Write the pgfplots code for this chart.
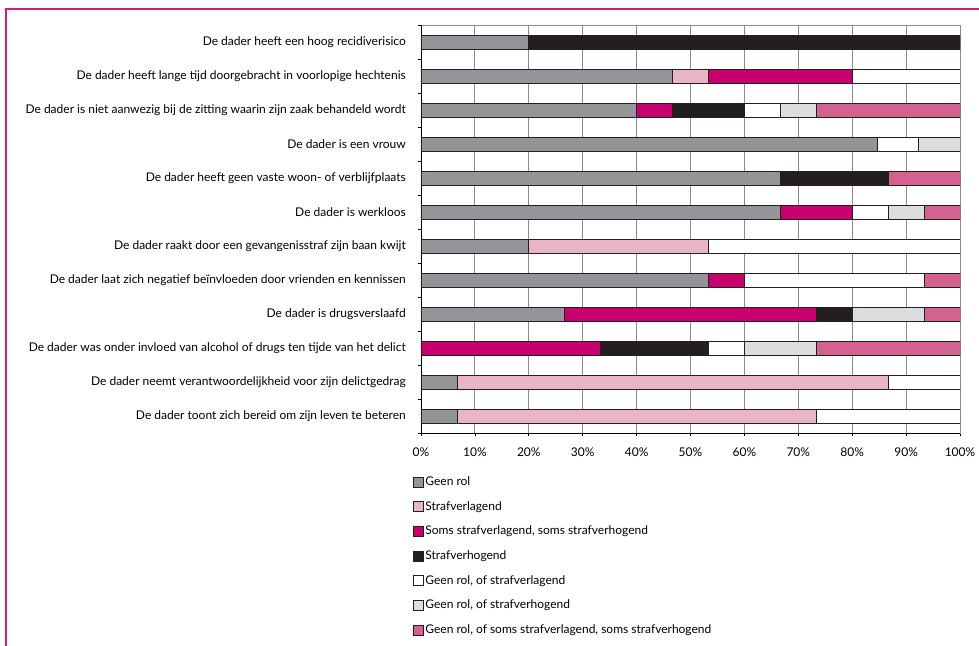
\documentclass[border=0pt]{standalone}
\usepackage{pgfplots}
\usepackage{pgfplotstable}
\pgfplotsset{compat=1.18}
\usepackage{fontspec}
\setmainfont{Lato}
\definecolor{cGR}{HTML}{939598}
\definecolor{cSV}{HTML}{EBB5C9}
\definecolor{cSO}{HTML}{C7006E}
\definecolor{cSH}{HTML}{231F20}
\definecolor{cGV}{HTML}{FFFFFF}
\definecolor{cGH}{HTML}{DCDDDE}
\definecolor{cGS}{HTML}{D4628F}
\definecolor{cOut}{HTML}{231F20}
\definecolor{cGrid}{HTML}{8C8C8C}
\definecolor{cFrame}{HTML}{CC2276}
\pgfplotstableread{
y GR SV SO SH GV GH GS
12 20 0 0 80 0 0 0
11 46.67 6.67 26.67 0 20 0 0
10 40 0 6.67 13.33 6.67 6.67 26.67
9 84.62 0 0 0 7.69 7.69 0
8 66.67 0 0 20 0 0 13.33
7 66.67 0 13.33 0 6.67 6.67 6.67
6 20 33.33 0 0 46.67 0 0
5 53.33 0 6.67 0 33.33 0 6.67
4 26.67 0 46.67 6.67 0 13.33 6.67
3 0 0 33.33 20 6.67 13.33 26.67
2 6.67 80 0 0 13.33 0 0
1 6.67 66.67 0 0 26.67 0 0
}\data
\pgfplotsset{sq/.style={legend image code/.code={\draw[##1,draw=cOut,line width=0.7bp] (0bp,-5bp) rectangle (10bp,5bp);}}}
\begin{document}
\fontsize{12bp}{14bp}\selectfont
\begin{tikzpicture}
\begin{axis}[
  at={(421bp,-433bp)}, anchor=south west,
  width=539bp, height=408bp, scale only axis,
  xbar stacked, bar width=0.41,
  xmin=0, xmax=100, ymin=0.5, ymax=12.5,
  xtick={0,10,...,100},
  xticklabel={\pgfmathprintnumber{\tick}\%},
  /pgf/number format/assume math mode=true,
  xticklabel style={inner sep=0pt, yshift=-12bp},
  ytick={1,...,12},
  minor ytick={0.5,1.5,...,12.5},
  yticklabels={
    De dader toont zich bereid om zijn leven te beteren,
    De dader neemt verantwoordelijkheid voor zijn delictgedrag,
    De dader was onder invloed van alcohol of drugs ten tijde van het delict,
    De dader is drugsverslaafd,
    De dader laat zich negatief beïnvloeden door vrienden en kennissen,
    De dader raakt door een gevangenisstraf zijn baan kwijt,
    De dader is werkloos,
    De dader heeft geen vaste woon- of verblijfplaats,
    De dader is een vrouw,
    De dader is niet aanwezig bij de zitting waarin zijn zaak behandeld wordt,
    De dader heeft lange tijd doorgebracht in voorlopige hechtenis,
    De dader heeft een hoog recidiverisico},
  yticklabel style={inner sep=0pt, xshift=-12bp},
  tick align=outside,
  major tick length=3bp, minor tick length=3bp,
  xtick pos=bottom, ytick pos=left,
  major y tick style={draw=none},
  minor y tick style={draw=black, line width=0.8bp},
  major x tick style={draw=black, line width=0.8bp},
  xmajorgrids, grid style={draw=cGrid, line width=0.9bp},
  axis line style={draw=cGrid, line width=0.9bp},
  legend style={at={(rel axis cs:0,0)}, anchor=north west, xshift=-8bp, yshift=-42bp,
    draw=none, fill=none, inner sep=0pt, row sep=11bp, column sep=0pt,
    nodes={inner sep=1.5bp}},
  legend cell align=left,
]
\addplot[fill=cGR, draw=cOut, line width=0.7bp, sq] table[x=GR, y=y]{\data};
\addplot[fill=cSV, draw=cOut, line width=0.7bp, sq] table[x=SV, y=y]{\data};
\addplot[fill=cSO, draw=cOut, line width=0.7bp, sq] table[x=SO, y=y]{\data};
\addplot[fill=cSH, draw=cOut, line width=0.7bp, sq] table[x=SH, y=y]{\data};
\addplot[fill=cGV, draw=cOut, line width=0.7bp, sq] table[x=GV, y=y]{\data};
\addplot[fill=cGH, draw=cOut, line width=0.7bp, sq] table[x=GH, y=y]{\data};
\addplot[fill=cGS, draw=cOut, line width=0.7bp, sq] table[x=GS, y=y]{\data};
\legend{Geen rol, Strafverlagend, {Soms strafverlagend, soms strafverhogend}, Strafverhogend, {Geen rol, of strafverlagend}, {Geen rol, of strafverhogend}, {Geen rol, of soms strafverlagend, soms strafverhogend}}
\draw[black, line width=0.9bp] (rel axis cs:0,1) -- (rel axis cs:0,0) -- (rel axis cs:1,0);
\end{axis}
\draw[cFrame, line width=1.4bp] (1000bp,-9bp) -- (6bp,-9bp) -- (6bp,-700bp);
\pgfresetboundingbox
\path[use as bounding box] (0bp,0bp) rectangle (979bp,-646bp);
\end{tikzpicture}
\end{document}
